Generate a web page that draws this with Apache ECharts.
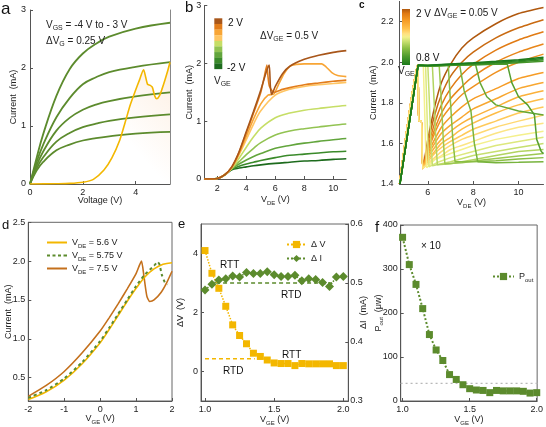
<!DOCTYPE html>
<html>
<head>
<meta charset="utf-8">
<script src="https://cdn.jsdelivr.net/npm/echarts@6/dist/echarts.min.js"></script>
<style>
html, body { margin: 0; padding: 0; background: #fff; }
#chart { width: 546px; height: 427px; }
</style>
</head>
<body>
<div id="chart"></div>
<script>
// ---- a: output curves + RTD curve ----
const aX = [0, 0.25, 0.5, 1, 1.5, 2, 2.5, 3, 4, 5.3];
const aG1 = [0, 0.45, 0.86, 1.52, 1.98, 2.25, 2.42, 2.54, 2.68, 2.78];
const aG2 = [0, 0.38, 0.68, 1.15, 1.48, 1.72, 1.84, 1.93, 2.02, 2.1];
const aG3 = [0, 0.32, 0.56, 0.92, 1.14, 1.28, 1.37, 1.43, 1.51, 1.58];
const aG4 = [0, 0.27, 0.46, 0.73, 0.88, 0.98, 1.04, 1.09, 1.15, 1.2];
const aG5 = [0, 0.23, 0.38, 0.58, 0.68, 0.75, 0.79, 0.82, 0.87, 0.9];
const aYelX = [0, 1, 1.5, 2, 2.4, 2.8, 3.1, 3.4, 3.6, 3.8, 4.0, 4.15, 4.3, 4.38, 4.45, 4.55, 4.63, 4.72, 4.8, 4.9, 5.0, 5.1, 5.2, 5.3];
const aYelY = [0, 0.005, 0.01, 0.03, 0.08, 0.24, 0.45, 0.76, 1.06, 1.37, 1.62, 1.8, 1.97, 1.84, 1.72, 1.7, 1.67, 1.52, 1.47, 1.52, 1.64, 1.78, 1.93, 2.1];

// ---- b: V_GE = -2 .. 2 V ----
const bX = [1.1, 2, 2.5, 3, 3.5, 4, 4.5, 5, 6, 7, 8, 9, 10, 10.9];
const bM20 = [0, 0.01, 0.07, 0.16, 0.19, 0.21, 0.23, 0.245, 0.27, 0.29, 0.31, 0.32, 0.34, 0.35];
const bM15 = [0, 0.01, 0.07, 0.17, 0.22, 0.26, 0.29, 0.32, 0.37, 0.41, 0.43, 0.45, 0.47, 0.48];
const bM10 = [0, 0.01, 0.07, 0.18, 0.26, 0.33, 0.39, 0.44, 0.53, 0.58, 0.62, 0.65, 0.68, 0.7];
const bM05 = [0, 0.01, 0.07, 0.18, 0.3, 0.42, 0.53, 0.63, 0.76, 0.83, 0.87, 0.9, 0.93, 0.95];
const bP00 = [0, 0.01, 0.07, 0.19, 0.36, 0.55, 0.73, 0.88, 1.06, 1.14, 1.19, 1.22, 1.25, 1.27];
const bP05 = [0, 0.01, 0.07, 0.2, 0.42, 0.68, 0.95, 1.18, 1.45, 1.55, 1.6, 1.63, 1.65, 1.67];
const bP10 = [[1.1, 0], [2, 0.01], [2.5, 0.07], [3, 0.2], [3.5, 0.44], [4, 0.74], [4.5, 1.04], [5, 1.3], [5.5, 1.45], [5.9, 1.47], [6.2, 1.62], [6.6, 1.82], [7.1, 1.96], [8, 1.99], [9.2, 1.99], [9.5, 1.94], [9.9, 1.84], [10.3, 1.79], [10.9, 1.77]];
const bP15 = [[1.1, 0], [2, 0.01], [2.5, 0.07], [3, 0.21], [3.5, 0.46], [4, 0.8], [4.5, 1.14], [5, 1.5], [5.25, 1.78], [5.42, 1.97], [5.5, 1.76], [5.6, 1.6], [5.9, 1.5], [6.5, 1.55], [7, 1.58], [8, 1.63], [9, 1.66], [10, 1.69], [10.9, 1.71]];
const bP20 = [[1.1, 0], [2, 0.01], [2.5, 0.07], [3, 0.21], [3.5, 0.47], [4, 0.82], [4.5, 1.17], [5, 1.54], [5.35, 1.83], [5.58, 1.97], [5.66, 1.6], [5.75, 1.46], [6, 1.6], [6.5, 1.82], [7, 1.95], [8, 2.07], [9, 2.14], [10, 2.19], [10.9, 2.22]];

// ---- c: V_GE = 0.8 .. 2 V, step 0.05 ----
const cGreenHead = [[4.77, 1.4], [5.57, 1.985]];
const cOrangeHead = [[4.75, 1.4], [5.55, 1.985], [5.6, 1.71], [5.72, 1.71], [5.78, 1.477]];
const cGreenTails = [
  [[6, 1.985], [7, 1.992], [8, 1.998], [9, 2.005], [10, 2.013], [11.1, 2.025]],
  [[6, 1.984], [7, 1.99], [8, 1.995], [9, 2.0], [10, 2.008], [11.1, 2.018]],
  [[6, 1.983], [7, 1.988], [8, 1.992], [9, 1.996], [10, 2.003], [11.1, 2.012]],
  [[6, 1.982], [7, 1.985], [8, 1.988], [9, 1.992], [10, 1.998], [11.1, 2.005]],
  [[6, 1.982], [8, 1.988], [9.5, 1.992], [9.7, 1.9], [10, 1.83], [10.4, 1.79], [10.7, 1.74], [10.8, 1.62], [11, 1.56], [11.1, 1.55]],
  [[6, 1.982], [8.1, 1.99], [8.3, 1.9], [8.6, 1.83], [9, 1.79], [10, 1.76], [11.1, 1.74]],
  [[6, 1.982], [7.4, 1.988], [7.6, 1.86], [7.9, 1.76], [8.05, 1.6], [8.2, 1.51], [9, 1.505], [10, 1.507], [11.1, 1.51]],
  [[6, 1.982], [6.9, 1.986], [7.0, 1.8], [7.1, 1.62], [7.2, 1.51], [8, 1.51], [9, 1.515], [10, 1.523], [11.1, 1.53]],
  [[6, 1.982], [6.5, 1.985], [6.6, 1.8], [6.68, 1.62], [6.75, 1.5], [7.5, 1.505], [8.5, 1.52], [10, 1.538], [11.1, 1.55]],
  [[6.2, 1.984], [6.28, 1.8], [6.35, 1.62], [6.42, 1.495], [7, 1.5], [8, 1.52], [9, 1.54], [10, 1.56], [11.1, 1.57]],
  [[6.0, 1.984], [6.07, 1.8], [6.13, 1.62], [6.2, 1.49], [7, 1.51], [8, 1.54], [9, 1.56], [10, 1.58], [11.1, 1.6]],
  [[5.9, 1.984], [5.95, 1.8], [6.0, 1.6], [6.05, 1.485], [6.5, 1.51], [7, 1.53], [8, 1.56], [9, 1.59], [10, 1.61], [11.1, 1.63]],
  [[5.8, 1.984], [5.85, 1.8], [5.9, 1.6], [5.95, 1.48], [6.3, 1.52], [7, 1.55], [8, 1.59], [9, 1.62], [10, 1.64], [11.1, 1.66]],
];
const cOrangeTails = [
  [[6, 1.5], [6.3, 1.52], [6.6, 1.54], [7, 1.57], [7.5, 1.59], [8, 1.61], [9, 1.65], [10, 1.68], [11.1, 1.7]],
  [[6, 1.5], [6.3, 1.53], [6.6, 1.56], [7, 1.59], [7.5, 1.62], [8, 1.64], [9, 1.68], [10, 1.71], [11.1, 1.74]],
  [[6, 1.51], [6.3, 1.55], [6.6, 1.58], [7, 1.61], [7.5, 1.64], [8, 1.67], [9, 1.71], [10, 1.75], [11.1, 1.78]],
  [[6, 1.52], [6.3, 1.56], [6.6, 1.6], [7, 1.63], [7.5, 1.67], [8, 1.7], [9, 1.75], [10, 1.79], [11.1, 1.82]],
  [[6, 1.53], [6.3, 1.58], [6.6, 1.62], [7, 1.66], [7.5, 1.7], [8, 1.73], [9, 1.78], [10, 1.83], [11.1, 1.86]],
  [[6, 1.54], [6.3, 1.6], [6.6, 1.65], [7, 1.69], [7.5, 1.73], [8, 1.77], [9, 1.82], [10, 1.87], [11.1, 1.9]],
  [[6, 1.55], [6.3, 1.62], [6.6, 1.68], [7, 1.73], [7.5, 1.78], [8, 1.82], [9, 1.87], [10, 1.92], [11.1, 1.95]],
  [[6, 1.56], [6.3, 1.65], [6.6, 1.72], [7, 1.78], [7.5, 1.84], [8, 1.88], [9, 1.95], [10, 2.0], [11.1, 2.04]],
  [[6, 1.57], [6.3, 1.67], [6.6, 1.75], [7, 1.82], [7.5, 1.88], [8, 1.93], [9, 2.0], [10, 2.05], [11.1, 2.09]],
  [[6, 1.58], [6.3, 1.7], [6.6, 1.79], [7, 1.87], [7.5, 1.94], [8, 1.99], [9, 2.06], [10, 2.11], [11.1, 2.15]],
  [[6, 1.6], [6.3, 1.74], [6.6, 1.84], [7, 1.93], [7.5, 2.0], [8, 2.05], [9, 2.12], [10, 2.17], [11.1, 2.21]],
  [[6, 1.62], [6.3, 1.78], [6.6, 1.9], [7, 1.99], [7.5, 2.07], [8, 2.12], [9, 2.19], [10, 2.24], [11.1, 2.27]],
];

// ---- d: transfer curves ----
const d56 = [[-2, 0.22], [-1.5, 0.32], [-1, 0.47], [-0.5, 0.68], [0, 0.95], [0.25, 1.12], [0.5, 1.3], [0.75, 1.48], [1, 1.65], [1.25, 1.8], [1.5, 1.9], [1.75, 1.96], [2, 1.98]];
const d575 = [[-2, 0.24], [-1.5, 0.34], [-1, 0.49], [-0.5, 0.7], [0, 0.97], [0.25, 1.14], [0.5, 1.32], [0.75, 1.5], [1, 1.68], [1.25, 1.83], [1.5, 1.94], [1.6, 1.99], [1.65, 1.96], [1.72, 1.82], [1.8, 1.73], [1.88, 1.7]];
const d75 = [[-2, 0.26], [-1.5, 0.4], [-1, 0.58], [-0.5, 0.82], [0, 1.1], [0.25, 1.27], [0.5, 1.45], [0.75, 1.64], [1, 1.84], [1.15, 2.0], [1.22, 1.8], [1.3, 1.55], [1.38, 1.48], [1.5, 1.5], [1.7, 1.6], [1.85, 1.72], [2, 1.87]];

// ---- e / f: vs V_GE ----
const eX = [1.0, 1.05, 1.1, 1.15, 1.2, 1.25, 1.3, 1.35, 1.4, 1.45, 1.5, 1.55, 1.6, 1.65, 1.7, 1.75, 1.8, 1.85, 1.9, 1.95, 2.0];
const eDV = [4.1, 3.33, 2.82, 2.21, 1.58, 1.22, 0.94, 0.62, 0.51, 0.39, 0.29, 0.27, 0.27, 0.2, 0.27, 0.26, 0.26, 0.26, 0.26, 0.2, 0.2];
const eDI = [0.488, 0.498, 0.505, 0.507, 0.512, 0.51, 0.518, 0.516, 0.516, 0.519, 0.514, 0.511, 0.511, 0.513, 0.504, 0.507, 0.506, 0.501, 0.494, 0.51, 0.511];
const eRefI = [[1.08, 0.5], [1.92, 0.5]];
const eRefV = [[1.0, 0.43], [1.36, 0.43]];
const fP = [372, 310, 265, 210, 151, 116, 92, 60, 49, 37, 28, 25, 24, 19, 24, 23, 23, 23, 22, 18, 19];
const fRef = [[0.985, 40], [2.005, 40]];

const FONT = '"Liberation Sans", Arial, sans-serif';
const TXT = '#222';
const AXC = '#555';
const GREEN = '#5c8b2d';
const YEL = '#f3b700';
const BROWN = '#c4701c';

const RICH = {
  n: { fontSize: 9, color: TXT, fontFamily: FONT, lineHeight: 13 },
  s: { fontSize: 6, color: TXT, fontFamily: FONT, lineHeight: 6, verticalAlign: 'bottom' },
};
const nameStyle = { fontSize: 9, color: TXT, fontFamily: FONT, rich: RICH };

function ax(gridIndex, min, max, o) {
  o = o || {};
  const a = {
    type: 'value', gridIndex, min, max,
    axisLine: { show: true, onZero: false, lineStyle: { color: AXC, width: 1 } },
    axisTick: { show: o.ticks !== false, inside: true, length: 3, lineStyle: { color: AXC } },
    axisLabel: { show: o.labels !== false, fontSize: 9, color: TXT, fontFamily: FONT, margin: o.margin == null ? 4 : o.margin },
    splitLine: { show: false },
    nameMoveOverlap: false,
  };
  if (o.position) a.position = o.position;
  if (o.fmt) a.axisLabel.formatter = o.fmt;
  if (o.interval) a.interval = o.interval;
  if (o.at) { a.axisLabel.customValues = o.at; a.axisTick.customValues = o.at; }
  if (o.name) {
    a.name = o.name; a.nameLocation = 'middle'; a.nameGap = o.gap;
    a.nameTextStyle = nameStyle;
    if (o.rotate) a.nameRotate = o.rotate;
  }
  return a;
}
const f1 = v => v.toFixed(1);

// colour ramp for panel c (dark green -> pale yellow -> orange -> brown)
const cStops = [[0, [27, 122, 27]], [0.15, [77, 154, 44]], [0.3, [140, 191, 69]], [0.42, [200, 224, 112]], [0.5, [244, 240, 140]], [0.56, [255, 224, 128]], [0.65, [255, 192, 74]], [0.8, [245, 154, 36]], [0.92, [224, 122, 20]], [1, [176, 88, 14]]];
function ramp(t) {
  for (let i = 1; i < cStops.length; i++) {
    if (t <= cStops[i][0]) {
      const [t0, c0] = cStops[i - 1], [t1, c1] = cStops[i];
      const u = (t - t0) / (t1 - t0);
      return 'rgb(' + c0.map((v, j) => Math.round(v + (c1[j] - v) * u)).join(',') + ')';
    }
  }
  return 'rgb(176,88,14)';
}
const bColors = ['#1d6b1d', '#3a8a2a', '#62a53c', '#92c352', '#c6de66', '#ffc562', '#f8a535', '#e27d1c', '#a8561a'];

const series = [];
const line = (xi, yi, data, color, extra) => Object.assign({
  type: 'line', xAxisIndex: xi, yAxisIndex: yi, data, showSymbol: false, symbol: 'none',
  lineStyle: { color, width: 1.6 }, itemStyle: { color }, silent: true,
}, extra || {});
const zip = (xs, ys) => xs.map((x, i) => [x, ys[i]]);

// a
[aG1, aG2, aG3, aG4, aG5].forEach(ys => series.push(line(0, 0, zip(aX, ys), GREEN, { smooth: 0.4, lineStyle: { color: GREEN, width: 1.8 } })));
series.push(line(0, 0, zip(aYelX, aYelY), YEL, {
  smooth: 0.25,
  areaStyle: { color: new echarts.graphic.LinearGradient(0, 1, 1, 0, [
    { offset: 0, color: 'rgba(250,214,180,0)' }, { offset: 0.55, color: 'rgba(250,214,180,0)' },
    { offset: 0.8, color: 'rgba(250,214,180,0.3)' }, { offset: 1, color: 'rgba(250,214,180,0.55)' }]) },
}));

// b
[bM20, bM15, bM10, bM05, bP00, bP05].forEach((ys, i) => series.push(line(1, 1, zip(bX, ys), bColors[i], { smooth: 0.35 })));
[bP10, bP15, bP20].forEach((d, i) => series.push(line(1, 1, d, bColors[6 + i], { smooth: 0.2 })));

// c (oranges first, greens on top)
for (let k = 24; k >= 13; k--) {
  series.push(line(2, 2, cOrangeHead.concat(cOrangeTails[k - 13]), ramp(k / 24), { smooth: 0.2, lineStyle: { color: ramp(k / 24), width: 1.5 } }));
}
for (let k = 12; k >= 0; k--) {
  series.push(line(2, 2, cGreenHead.concat(cGreenTails[k]), ramp(k / 24), { lineStyle: { color: ramp(k / 24), width: 1.5 } }));
}

// d
series.push(line(3, 3, d75, BROWN, { name: 'VDE = 7.5 V', smooth: 0.2 }));
series.push(line(3, 3, d56, YEL, { name: 'VDE = 5.6 V', smooth: 0.35 }));
series.push(line(3, 3, d575, GREEN, { name: 'VDE = 5.75 V', smooth: 0.2, lineStyle: { color: GREEN, width: 2, type: [3, 3] } }));

// e
series.push(line(4, 4, eRefV, YEL, { lineStyle: { color: YEL, width: 1.5, type: [4, 3] } }));
series.push(line(4, 5, eRefI, GREEN, { lineStyle: { color: GREEN, width: 1.5, type: [4, 3] } }));
series.push({
  type: 'line', name: 'Δ V', xAxisIndex: 4, yAxisIndex: 4, data: zip(eX, eDV),
  symbol: 'rect', symbolSize: 7, itemStyle: { color: YEL }, lineStyle: { color: YEL, width: 1.5, type: 'dotted' }, silent: true,
});
series.push({
  type: 'line', name: 'Δ I', xAxisIndex: 4, yAxisIndex: 5, data: zip(eX, eDI),
  symbol: 'diamond', symbolSize: [9, 9], itemStyle: { color: GREEN }, lineStyle: { color: GREEN, width: 1.5, type: 'dotted' }, silent: true,
});

// f
series.push(line(5, 6, fRef, '#b8b8b8', { lineStyle: { color: '#b8b8b8', width: 1.2, type: [2, 3] } }));
series.push({
  type: 'line', name: 'Pout', xAxisIndex: 5, yAxisIndex: 6, data: zip(eX, fP),
  symbol: 'rect', symbolSize: 7, itemStyle: { color: GREEN }, lineStyle: { color: GREEN, width: 2, type: 'dotted' }, silent: true,
});

const box = { show: true, borderColor: '#666', borderWidth: 1, backgroundColor: 'transparent' };
const grids = [
  { left: 30, top: 10, width: 140, height: 174 },
  { left: 204.3, top: 5.5, width: 142, height: 173.5 },
  { left: 399.5, top: 1.4, width: 144, height: 182.6 },
  Object.assign({ left: 28.3, top: 222.3, width: 143.7, height: 178.7 }, box),
  Object.assign({ left: 201, top: 224, width: 147.3, height: 179.3 }, box),
  Object.assign({ left: 400.7, top: 225, width: 140.3, height: 179.3 }, box),
];

const xAxes = [
  ax(0, 0, 5.3, { at: [0, 2, 4], name: 'Voltage (V)', gap: 12 }),
  ax(1, 1.1, 10.9, { at: [2, 4, 6, 8, 10], name: '{n|V}{s|DE}{n| (V)}', gap: 14, margin: 5 }),
  ax(2, 4.75, 11.1, { at: [6, 8, 10], name: '{n|V}{s|DE}{n| (V)}', gap: 12 }),
  ax(3, -2, 2, { interval: 1, name: '{n|V}{s|GE}{n| (V)}', gap: 11 }),
  ax(4, 0.971, 2.036, { at: [1, 1.5, 2], fmt: f1, name: '{n|V}{s|GE}{n| (V)}', gap: 12 }),
  ax(5, 0.986, 2.003, { at: [1, 1.5, 2], fmt: f1, name: '{n|V}{s|GE}{n| (V)}', gap: 12 }),
];
const yAxes = [
  ax(0, 0, 3, { interval: 1, name: 'Current  (mA)', gap: 12, rotate: 90 }),
  ax(1, 0, 3, { interval: 1, name: 'Current  (mA)', gap: 10, rotate: 90, margin: 3 }),
  ax(2, 1.4, 2.3, { at: [1.4, 1.6, 1.8, 2.0, 2.2], fmt: f1, name: 'Current  (mA)', gap: 21, rotate: 90, margin: 6 }),
  ax(3, 0.2, 2.5, { at: [0.5, 1, 1.5, 2, 2.5], fmt: f1, name: 'Current  (mA)', gap: 15, rotate: 90, margin: 3 }),
  ax(4, -1, 5, { at: [0, 2, 4], name: '{n|ΔV  (V)}', gap: 14, rotate: 90, margin: 3 }),
  ax(4, 0.3, 0.6, { at: [0.3, 0.4, 0.5, 0.6], fmt: f1, position: 'right', name: '{n|ΔI  (mA)}', gap: 9, rotate: 90, margin: 2 }),
  ax(5, 0, 400, { interval: 100, name: '{n|P}{s|out}{n|  (μw)}', gap: 16, rotate: 90, margin: 3 }),
  ax(0, 0, 3, { position: 'right', labels: false, ticks: false }),
];
yAxes[7].axisLine.lineStyle.color = '#888';

// legend icons drawn as thin bars (solid / dashed), no marker
const ICON_SOLID = 'path://M0,0h20v2h-20z';
const ICON_DASH = 'path://M0,0h3v2h-3zM5.5,0h3v2h-3zM11,0h3v2h-3zM16.5,0h3.5v2h-3.5z';
const legendText = { fontSize: 9, color: TXT, fontFamily: FONT, rich: RICH };
const legends = [
  { data: [{ name: 'VDE = 5.6 V', icon: ICON_SOLID }, { name: 'VDE = 5.75 V', icon: ICON_DASH }, { name: 'VDE = 7.5 V', icon: ICON_SOLID }],
    left: 42, top: 233, orient: 'vertical', itemWidth: 20, itemHeight: 9, itemGap: 2,
    textStyle: legendText, formatter: n => '{n|V}{s|DE}{n|' + n.slice(3) + '}', selectedMode: false },
  { data: ['Δ V', 'Δ I'], left: 281, top: 235, orient: 'vertical', itemWidth: 19, itemHeight: 9, itemGap: 5,
    textStyle: legendText, formatter: n => '{n|' + n + '}', selectedMode: false },
  { data: ['Pout'], left: 487, top: 267, orient: 'vertical', itemWidth: 21, itemHeight: 9,
    textStyle: legendText, formatter: () => '{n|P}{s|out}', selectedMode: false },
];

const GR = {
  n: { fontSize: 10, fontFamily: FONT, fill: TXT, lineHeight: 14 },
  s: { fontSize: 7, fontFamily: FONT, fill: TXT, lineHeight: 7, verticalAlign: 'bottom' },
};
const txt = (left, top, text, size, weight) => ({
  type: 'text', left, top, z: 100,
  style: { text, fontSize: size || 10, fontFamily: FONT, fontWeight: weight || 'normal', fill: '#111', rich: GR },
});
const graphic = [
  txt(1, 1, 'a', 17), txt(185, 0, 'b', 15), txt(359, 0, 'c', 10, 'bold'),
  txt(2, 219, 'd', 13), txt(178, 218, 'e', 13), txt(375, 220, 'f', 15),
  txt(46, 20, '{n|V}{s|GS}{n| = -4 V to - 3 V}'),
  txt(46, 36, '{n|ΔV}{s|G}{n| = 0.25 V}'),
  txt(260, 31, '{n|ΔV}{s|GE}{n| = 0.5 V}'),
  txt(228, 18, '2 V'), txt(227, 63, '-2 V'), txt(214, 76, '{n|V}{s|GE}'),
  txt(416, 9, '2 V'), txt(434, 8, '{n|ΔV}{s|GE}{n| = 0.05 V}'), txt(416, 53, '0.8 V'), txt(398, 66, '{n|V}{s|GE}'),
  txt(220, 260, 'RTT'), txt(281, 290, 'RTD'), txt(282, 350, 'RTT'), txt(223, 366, 'RTD'),
  txt(421, 241, '× 10'),
];
bColors.slice().reverse().forEach((c, i) => graphic.push({
  type: 'rect', z: 100, shape: { x: 214.3, y: 18.3 + i * 5.63, width: 8, height: 5.8 }, style: { fill: c },
}));
graphic.push({
  type: 'rect', z: 100, shape: { x: 402, y: 9, width: 8, height: 56 },
  style: { fill: new echarts.graphic.LinearGradient(0, 0, 0, 1, cStops.map(([t]) => ({ offset: 1 - t, color: ramp(t) })).reverse()) },
});

const chart = echarts.init(document.getElementById('chart'), null, { renderer: 'canvas' });
chart.setOption({
  animation: false,
  backgroundColor: '#fff',
  textStyle: { fontFamily: FONT },
  grid: grids,
  xAxis: xAxes,
  yAxis: yAxes,
  legend: legends,
  series,
  graphic,
});
</script>
</body>
</html>
